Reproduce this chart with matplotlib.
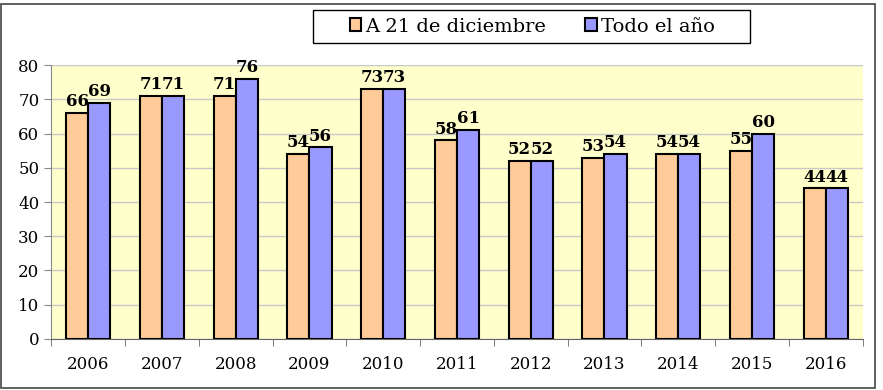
import numpy as np
import matplotlib.pyplot as plt
from matplotlib.patches import Rectangle

# datos
years = ["2006", "2007", "2008", "2009", "2010", "2011", "2012", "2013", "2014", "2015", "2016"]
a_21_dic = [66, 71, 71, 54, 73, 58, 52, 53, 54, 55, 44]
todo_ano = [69, 71, 76, 56, 73, 61, 52, 54, 54, 60, 44]

plt.rcParams["font.family"] = ["DejaVu Serif"]

fig = plt.figure(figsize=(8.83, 3.90), dpi=100)
# marco exterior
fig.patches.append(Rectangle((0.001, 0.005), 0.99, 0.985, transform=fig.transFigure,
                             fill=False, edgecolor="#444444", linewidth=1.2))
ax = fig.add_axes([0.058, 0.131, 0.919, 0.702])

x = np.arange(len(years))
w = 0.3
b1 = ax.bar(x - w / 2, a_21_dic, w, color="#FFCC99", edgecolor="black", linewidth=1.5,
            label="A 21 de diciembre", zorder=3)
b2 = ax.bar(x + w / 2, todo_ano, w, color="#9999FF", edgecolor="black", linewidth=1.5,
            label="Todo el año", zorder=3)

for bars in (b1, b2):
    for r in bars:
        ax.text(r.get_x() + r.get_width() / 2, r.get_height() + 0.8, str(int(r.get_height())),
                ha="center", va="bottom", fontsize=12, fontweight="bold", zorder=4)

ax.set_facecolor("#FFFFCC")
ax.set_xlim(-0.5, len(years) - 0.5)
ax.set_ylim(0, 80)
ax.set_yticks(range(0, 81, 10))
ax.yaxis.grid(True, color="#C8C8C8", linewidth=1, zorder=0)
ax.set_xticks(x)
ax.set_xticklabels(years, fontsize=12)
ax.set_xticks(np.arange(-0.5, len(years), 1), minor=True)
ax.tick_params(axis="x", which="major", length=0, pad=12)
ax.tick_params(axis="x", which="minor", length=5, color="#666666")
ax.tick_params(axis="y", labelsize=12, length=5, color="#888888")

for s in ("top", "right"):
    ax.spines[s].set_visible(False)
ax.spines["left"].set_color("#888888")
ax.spines["bottom"].set_color("#666666")

# marco de la leyenda
fig.patches.append(Rectangle((0.3545, 0.89), 0.495, 0.084, transform=fig.transFigure,
                             fill=False, edgecolor="black", linewidth=1.0))
fig.legend(handles=[b1, b2], loc="center", bbox_to_anchor=(0.6025, 0.932), ncol=2,
           fontsize=14, frameon=False,
           handlelength=0.6, handleheight=0.6, columnspacing=2.0, handletextpad=0.2,
           borderpad=0.0, borderaxespad=0.0)

fig.savefig("out.png", dpi=100)
